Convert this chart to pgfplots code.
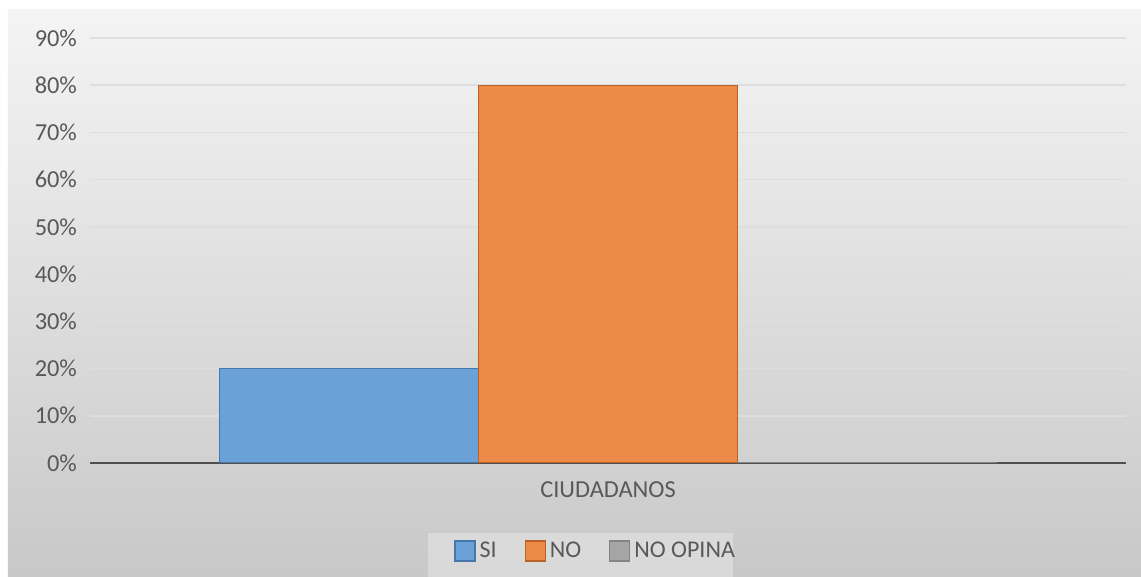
\documentclass[border=0pt]{standalone}
\usepackage{fontspec}
\setmainfont{Carlito}
\usepackage{pgfplots}
\pgfplotsset{compat=1.18}
\definecolor{bgtop}{RGB}{244,244,244}
\definecolor{bgbot}{RGB}{200,200,200}
\definecolor{siblue}{RGB}{106,161,214}
\definecolor{siedge}{RGB}{70,118,170}
\definecolor{noorange}{RGB}{236,139,71}
\definecolor{noedge}{RGB}{185,98,40}
\definecolor{opgray}{RGB}{165,165,165}
\definecolor{txt}{RGB}{89,89,89}
\definecolor{gridc}{RGB}{222,222,222}
\definecolor{axisc}{RGB}{80,80,80}
\begin{document}
\begin{tikzpicture}
\begin{scope}[x=0.5pt,y=-0.5pt,shift={(-45pt,231.5pt)}]
\fill[white] (0,0) rectangle (1141,577);
\shade[top color=bgtop,bottom color=bgbot] (8,10) rectangle (1141,577);
\fill[white,opacity=0.3] (428,533) rectangle (733,577);
\end{scope}
\begin{axis}[
  at={(0,0)}, anchor=south west,
  scale only axis, width=518pt, height=212.5pt,
  xmin=-0.5, xmax=0.5, ymin=0, ymax=90,
  ytick={0,10,...,90},
  yticklabel={\pgfmathprintnumber{\tick}\%},
  xtick={0}, xticklabels={CIUDADANOS},
  major tick length=0pt,
  axis lines*=left,
  axis line style={-},
  y axis line style={draw=none},
  x axis line style={draw=axisc, line width=1.3pt},
  ymajorgrids, grid style={gridc, line width=0.8pt},
  tick label style={font=\fontsize{12.2}{14}\selectfont, text=txt},
  yticklabel style={xshift=-3pt},
  xticklabel style={yshift=-6pt},
  /pgf/number format/assume math mode=true,
  ybar=0pt, bar width=0.25,
  legend style={at={(0.489,-0.207)}, anchor=center, draw=none, fill=none,
    legend columns=-1, font=\fontsize{12}{14}\selectfont, text=txt,
    nodes={inner sep=2pt},
    /tikz/every even column/.append style={column sep=12pt}},
  legend image code/.code={\draw[#1] (0pt,-5pt) rectangle (10pt,5pt);},
]
\addplot[fill=siblue, draw=siedge, line width=0.6pt, bar shift=-0.25] coordinates {(0,20)};
\addplot[fill=noorange, draw=noedge, line width=0.6pt, bar shift=0] coordinates {(0,80)};
\addplot[fill=opgray, draw=opgray!80!black, line width=0.6pt, bar shift=0.25] coordinates {(0,0)};
\legend{SI,NO,NO OPINA}
\end{axis}
\end{tikzpicture}
\end{document}
